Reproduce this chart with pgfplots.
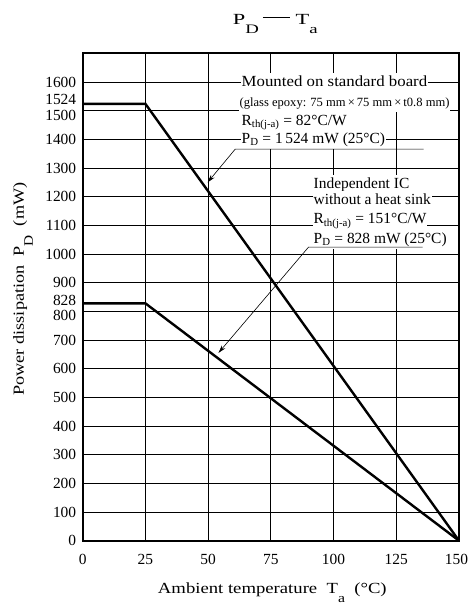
\documentclass[border=0pt]{standalone}
\usepackage{fontspec}
\setmainfont{Liberation Serif}
\usepackage{pgfplots}
\pgfplotsset{compat=1.18}
\usetikzlibrary{arrows.meta}

\newcommand{\mainsize}{\fontsize{15.5}{18}\selectfont}
\newcommand{\smallsize}{\fontsize{12.6}{15}\selectfont}
\newcommand{\shiftlab}[2]{\vphantom{0}\smash{\raisebox{#1}{#2}}}
\newcommand{\lowsub}[1]{\raisebox{-9bp}{\fontsize{13}{15}\selectfont #1}}

\begin{document}
\begin{tikzpicture}[font=\mainsize]
\begin{axis}[
  scale only axis, width=376.3bp, height=487.3bp,
  xmin=0, xmax=150, ymin=0, ymax=1700,
  xtick={0,25,50,75,100,125,150},
  xticklabels={0,25,50,75,100,125,150\kern5bp},
  ytick={0,100,200,300,400,500,600,700,800,900,1000,1100,1200,1300,1400,1500,1600},
  yticklabels={0,100,200,300,400,500,600,700,\shiftlab{-3.6bp}{800},900,1000,1100,1200,1300,1400,\shiftlab{-4.5bp}{1500},1600},
  extra y ticks={828,1524},
  extra y tick labels={\shiftlab{2.6bp}{828},\shiftlab{4.5bp}{1524}},
  extra y tick style={grid=none},
  grid=major,
  major grid style={black, line width=0.8bp},
  major tick length=0pt,
  axis line style={line width=2bp},
  ticklabel style={font=\mainsize},
  yticklabel style={xshift=-3bp},
  xticklabel style={yshift=-10bp},
  xlabel={\scalebox{1.21}[1]{Ambient temperature\ \ T\lowsub{a}\ \ (°C)}},
  ylabel={\scalebox{1.18}[1]{Power dissipation\ \ P\lowsub{D}\ \ (mW)}},
  every axis x label/.style={at={(axis description cs:0.504,-0.108)}, anchor=base, font=\mainsize},
  every axis y label/.style={at={(axis description cs:-0.156,0.5165)}, anchor=base, rotate=90, font=\mainsize},
  title={\scalebox{1.45}[1]{P\lowsub{D}}\hspace{4bp}\rule[6.5bp]{27.4bp}{0.8bp}\hspace{5.3bp}\scalebox{1.45}[1]{T\lowsub{a}}},
  every axis title/.style={at={(axis description cs:0.3986,1.0597)}, anchor=base west, inner sep=0pt, font=\mainsize},
  clip=false,
]
\addplot[black, line width=2.4bp] coordinates {(0,1524) (25,1524) (150,0)};
\addplot[black, line width=2.4bp] coordinates {(0,828) (25,828) (150,0)};

\begin{scope}[every node/.style={anchor=base west, fill=white, inner xsep=1bp, inner ysep=1.5bp, text height=12bp, text depth=4.5bp, font=\mainsize}]
\node at (axis cs:62.9,1584) {\scalebox{1.09}[1]{Mounted on standard board}};
\node[font=\smallsize] at (axis cs:62.1,1516) {(glass epoxy: 75 mm\,×\,75 mm\,×\,t0.8 mm)};
\node at (axis cs:62.9,1450) {R\textsubscript{th(j-a)} = 82°C/W};
\node at (axis cs:62.9,1386) {P\textsubscript{D} = 1\,524 mW (25°C)};
\node at (axis cs:91.6,1229) {Independent IC};
\node at (axis cs:91.6,1174) {without a heat sink};
\node at (axis cs:91.6,1105) {R\textsubscript{th(j-a)} = 151°C/W};
\node at (axis cs:91.6,1037) {P\textsubscript{D} = 828 mW (25°C)};
\end{scope}

\addplot[black, line width=0.6bp, -{Stealth[length=8bp,width=4.5bp]}] coordinates {(135.9,1366) (60.8,1366) (49.8,1250)};
\addplot[black, line width=0.6bp, -{Stealth[length=8bp,width=4.5bp]}] coordinates {(135.5,1024) (90.0,1024) (54.1,655)};
\end{axis}
\pgfresetboundingbox
\path[use as bounding box] ([xshift=-82.7bp,yshift=-67.3bp]current axis.south west) rectangle ([xshift=10bp,yshift=53.4bp]current axis.north east);
\end{tikzpicture}
\end{document}
